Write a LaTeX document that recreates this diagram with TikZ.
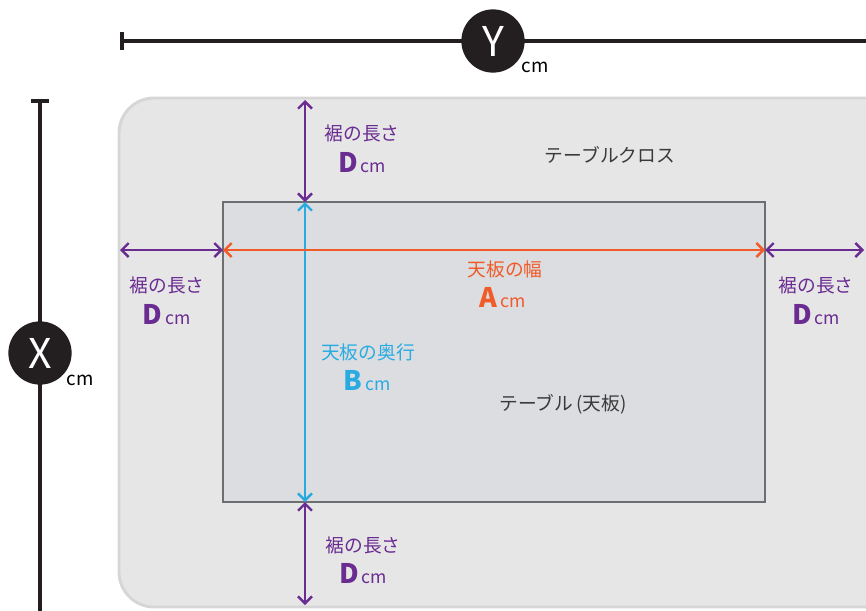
\documentclass[tikz,border=0pt]{standalone}
\usepackage{fontspec}
\setmainfont{Noto Sans CJK JP}
\usepackage{tikz}
\usetikzlibrary{arrows.meta}

\definecolor{ink}{HTML}{231F20}
\definecolor{skirt}{HTML}{6A2C91}
\definecolor{topw}{HTML}{F15A29}
\definecolor{depth}{HTML}{29ABE2}
\definecolor{cloth}{HTML}{E6E6E6}
\definecolor{clothline}{HTML}{D6D6D6}
\definecolor{board}{HTML}{DCDDE0}
\definecolor{boardline}{HTML}{6D6E71}
\definecolor{note}{HTML}{3A3A3A}

\newcommand{\dimval}[1]{{\fontsize{23}{24}\selectfont\bfseries #1}\,{\fontsize{15}{16}\selectfont cm}}

\begin{document}
\begin{tikzpicture}[x=0.03cm, y=-0.03cm,
	every node/.style={font=\fontsize{16}{18}\selectfont, inner sep=0pt},
	dim/.style={line width=2pt, {Straight Barb[length=6pt,width=12pt]}-{Straight Barb[length=6pt,width=12pt]}},
	ruler/.style={ink, line width=3pt},
	badge/.style={circle, fill=ink, text=white, minimum size=54pt, font=\fontsize{35}{35}\selectfont}]
	\useasboundingbox (0,0) rectangle (866,610);
	\clip (0,0) rectangle (866,610);
	% ruler Y
	\coordinate (y0) at (120,41);
	\coordinate (y1) at (870,41);
	\draw[ruler, {Bar[width=15pt,line width=3pt]}-] (y0) -- (y1);
	\node[badge] (ybadge) at (493,41) {Y};
	\node (ycm) at (535,67) {cm};
	% ruler X
	\coordinate (x0) at (40,99);
	\coordinate (x1) at (40,615);
	\draw[ruler, {Bar[width=15pt,line width=3pt]}-] (x0) -- (x1);
	\node[badge] (xbadge) at (40,353) {X};
	\node (xcm) at (80,380) {cm};
	% cloth and board
	\draw[fill=cloth, draw=clothline, line width=2.5pt, rounded corners=30pt] (119,98) rectangle (920,607);
	\coordinate (tnw) at (223,202);
	\coordinate (tse) at (765,502);
	\draw[fill=board, draw=boardline, line width=2.2pt] (tnw) rectangle (tse);
	\node[note] (clothname) at (610,155) {テーブルクロス};
	\node[note] (boardname) at (563,404) {テーブル\,(天板)};
	% dimensions
	\coordinate (top) at (305,100);
	\coordinate (bottom) at (305,605);
	\coordinate (left) at (120,250);
	\coordinate (right) at (864,250);
	\draw[dim, skirt] (top) -- (top |- tnw);
	\draw[dim, depth] (top |- tnw) -- (top |- tse);
	\draw[dim, skirt] (top |- tse) -- (bottom);
	\draw[dim, skirt] (left) -- (left -| tnw);
	\draw[dim, topw] (left -| tnw) -- (left -| tse);
	\draw[dim, skirt] (left -| tse) -- (right);
	% labels
	\node[skirt] (dtop) at (362,133) {裾の長さ};
	\node[skirt] (dtopv) at (362,163) {\dimval{D}};
	\node[skirt] (dleft) at (167,285) {裾の長さ};
	\node[skirt] (dleftv) at (167,315) {\dimval{D}};
	\node[skirt] (dright) at (816,285) {裾の長さ};
	\node[skirt] (drightv) at (816,315) {\dimval{D}};
	\node[skirt] (dbottom) at (363,545) {裾の長さ};
	\node[skirt] (dbottomv) at (363,574) {\dimval{D}};
	\node[topw] (aname) at (505,269) {天板の幅};
	\node[topw] (aval) at (503,298) {\dimval{A}};
	\node[depth] (bname) at (368,352) {天板の奥行};
	\node[depth] (bval) at (367,381) {\dimval{B}};
\end{tikzpicture}
\end{document}
